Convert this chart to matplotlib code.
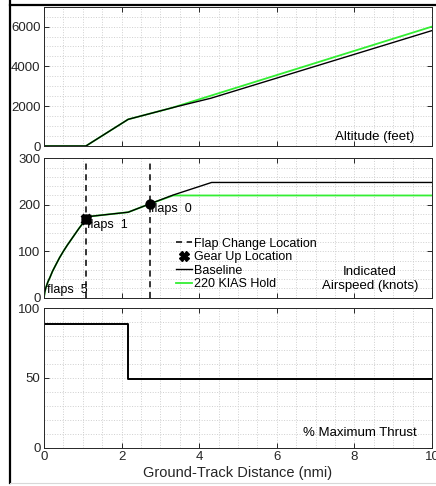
import numpy as np
import matplotlib
matplotlib.use('Agg')
import matplotlib.pyplot as plt
from matplotlib.lines import Line2D
from matplotlib.ticker import MultipleLocator

plt.rcParams['font.family'] = ['Liberation Sans', 'DejaVu Sans']
plt.rcParams['font.size'] = 9.5

# ground track distance (nmi) and values
alt_x_base = [0, 1.08, 2.17, 3.4, 4.3, 10]
alt_base = [0, 0, 1340, 1970, 2400, 5800]
alt_x_hold = [0, 1.08, 2.17, 3.3, 10]
alt_hold = [0, 0, 1340, 1920, 6000]

climb_x = [0, 0.02, 0.05, 0.1, 0.15, 0.22, 0.3, 0.4, 0.5, 0.6, 0.7, 0.8, 0.9, 1.0, 1.08]
climb_spd = [0, 12, 22, 34, 43, 57, 70, 86, 100, 113, 125, 137, 149, 160, 169]
spd_x_base = climb_x + [1.19, 2.17, 2.73, 3.33, 4.32, 10]
spd_base = climb_spd + [175, 184, 202, 221, 248, 248]
spd_x_hold = climb_x + [1.19, 2.17, 2.73, 3.33, 10]
spd_hold = climb_spd + [175, 184, 202, 220, 220]

flap_x = [1.08, 2.73]
flap_spd = [170, 201]
flap_labels = ['flaps  5', 'flaps  1', 'flaps  0']
flap_label_x = [0.07, 1.1, 2.77]
flap_label_y = [16, 156, 190]
gear_x = [1.08]
gear_spd = [170]

thr_x = [0, 2.17, 2.17, 10]
thr = [89, 89, 49, 49]

green = '#33ee33'
tc = '#262626'

fig = plt.figure(figsize=(4.36, 4.86), dpi=100)
L, W = 44 / 436, 388 / 436
ax1 = fig.add_axes([L, 1 - 146 / 486, W, 139.3 / 486])
ax2 = fig.add_axes([L, 1 - 297.7 / 486, W, 139.4 / 486])
ax3 = fig.add_axes([L, 1 - 447.7 / 486, W, 139.4 / 486])

for ax in (ax1, ax2, ax3):
    ax.set_xlim(0, 10)
    ax.xaxis.set_major_locator(MultipleLocator(2))
    ax.xaxis.set_minor_locator(MultipleLocator(0.5))
    ax.grid(True, which='both', color='#cfcfcf', linestyle=':', linewidth=0.7)
    ax.set_axisbelow(True)
    ax.tick_params(which='major', direction='in', top=True, right=True,
                   length=3.5, width=0.7, colors=tc, pad=2.5, labelsize=9.5)
    ax.tick_params(which='minor', length=0)
    for s in ax.spines.values():
        s.set_color(tc)
        s.set_linewidth(0.7)

# altitude
ax1.plot(alt_x_hold, alt_hold, color=green, lw=1.3)
ax1.plot(alt_x_base, alt_base, color='black', lw=1.0)
ax1.set_ylim(0, 7000)
ax1.yaxis.set_major_locator(MultipleLocator(2000))
ax1.yaxis.set_minor_locator(MultipleLocator(500))
ax1.tick_params(labelbottom=False)
ax1.text(0.954, 0.067, 'Altitude (feet)', transform=ax1.transAxes,
         ha='right', va='center', color='black')

# airspeed
ax2.plot(spd_x_hold, spd_hold, color=green, lw=1.3)
ax2.plot(spd_x_base, spd_base, color='black', lw=1.0)
for fx in flap_x:
    ax2.axvline(fx, color='black', ls=(0, (4, 3)), lw=1.1)
ax2.plot(flap_x, flap_spd, 'o', color='black', ms=6.5, ls='none')
ax2.plot(gear_x, gear_spd, 'X', color='black', ms=7.5, ls='none')
for lab, lx, ly in zip(flap_labels, flap_label_x, flap_label_y):
    ax2.text(lx, ly, lab, ha='left', va='center', fontsize=9, color='black')
ax2.set_ylim(0, 300)
ax2.yaxis.set_major_locator(MultipleLocator(100))
ax2.yaxis.set_minor_locator(MultipleLocator(20))
ax2.tick_params(labelbottom=False)
ax2.text(0.84, 0.135, 'Indicated\nAirspeed (knots)', transform=ax2.transAxes,
         ha='center', va='center', color='black', linespacing=1.2)

handles = [
    Line2D([], [], color='black', ls=(0, (4, 3)), lw=1.1),
    Line2D([], [], color='black', marker='X', ls='none', ms=7),
    Line2D([], [], color='black', lw=1.0),
    Line2D([], [], color=green, lw=1.3),
]
labels = ['Flap Change Location', 'Gear Up Location', 'Baseline', '220 KIAS Hold']
ax2.legend(handles, labels, loc='center left', bbox_to_anchor=(0.34, 0.242),
           frameon=False, fontsize=9, borderpad=0, handlelength=1.3,
           handletextpad=0.15, labelspacing=0.12, borderaxespad=0)

# thrust
ax3.plot(thr_x, thr, color='black', lw=1.4)
ax3.set_ylim(0, 100)
ax3.yaxis.set_major_locator(MultipleLocator(50))
ax3.yaxis.set_minor_locator(MultipleLocator(10))
ax3.set_xticks([0, 2, 4, 6, 8, 10])
ax3.set_xlabel('Ground-Track Distance (nmi)', fontsize=10.5, color=tc, labelpad=2)
ax3.text(0.961, 0.105, '% Maximum Thrust', transform=ax3.transAxes,
         ha='right', va='center', color='black')

# frame edges of the cropped figure
fig.add_artist(Line2D([10 / 436, 10 / 436], [0.006, 1], color='black', lw=1.6,
                      transform=fig.transFigure))
fig.add_artist(Line2D([10 / 436, 1], [1 - 5.5 / 486, 1 - 5.5 / 486], color='black',
                      lw=1.6, transform=fig.transFigure))
fig.add_artist(Line2D([10 / 436, 1], [1 - 483 / 486, 1 - 483 / 486], color='#d8d8d8',
                      lw=0.8, transform=fig.transFigure))

fig.savefig('out.png', dpi=100)
